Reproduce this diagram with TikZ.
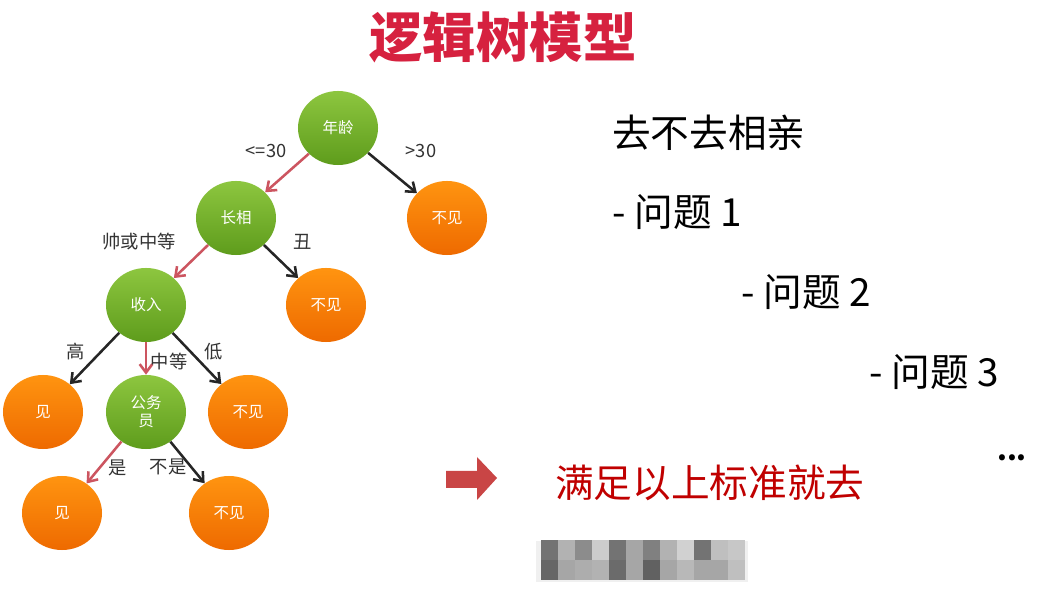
\documentclass[tikz,border=0pt]{standalone}
\usepackage{fontspec}
\setmainfont{Noto Sans CJK SC}
\usetikzlibrary{arrows.meta,shapes.geometric}
\definecolor{titlered}{HTML}{D6213F}
\definecolor{darkred}{HTML}{C00000}
\definecolor{arrred}{HTML}{C94545}
\definecolor{edgered}{HTML}{CC5560}
\definecolor{gtop}{HTML}{8DC63F}
\definecolor{gbot}{HTML}{5E9C1C}
\definecolor{otop}{HTML}{FF9410}
\definecolor{obot}{HTML}{EE6A00}
\begin{document}
\begin{tikzpicture}[x=0.025cm,y=-0.025cm,
  ball/.style={ellipse,minimum width=2cm,minimum height=1.85cm,inner sep=0pt,
    text=white,font=\fontsize{11}{13}\selectfont,align=center},
  gball/.style={ball,top color=gtop,bottom color=gbot},
  oball/.style={ball,top color=otop,bottom color=obot},
  blk/.style={draw=black!85,line width=1.8pt,-{Straight Barb[length=6pt,width=9pt,line width=1.8pt]}},
  red/.style={draw=edgered,line width=1.8pt,-{Straight Barb[length=6pt,width=9pt,line width=1.8pt]}},
  elab/.style={font=\fontsize{13}{15}\selectfont,text=black!80},
  rtext/.style={font=\fontsize{27.5}{32}\selectfont,anchor=west,inner sep=0pt}]
\useasboundingbox (0,0) rectangle (1040,589);
\fill[white] (0,0) rectangle (1040,589);
% title
\node[font=\fontsize{38}{44}\selectfont\bfseries,text=titlered] (title) at (503,37) {逻辑树模型};
% tree nodes
\node[gball] (age) at (338,128) {年龄};
\node[gball] (look) at (236,218) {长相};
\node[oball] (n1) at (447,218) {不见};
\node[gball] (inc) at (146,305) {收入};
\node[oball] (n2) at (326,305) {不见};
\node[oball] (y1) at (43,412) {见};
\node[gball] (civ) at (146,412) {公务\\员};
\node[oball] (n3) at (248,412) {不见};
\node[oball] (y2) at (62,513) {见};
\node[oball] (n4) at (229,513) {不见};
% edges
\draw[red] (age) -- (look);
\draw[blk] (age) -- (n1);
\draw[red] (look) -- (inc);
\draw[blk] (look) -- (n2);
\draw[blk] (inc) -- (y1);
\draw[red] (inc) -- (civ);
\draw[blk] (inc) -- (n3);
\draw[red] (civ) -- (y2);
\draw[blk] (civ) -- (n4);
% edge labels
\node[elab] (l1) at (266,151) {<=30};
\node[elab] (l2) at (421,151) {>30};
\node[elab] (l3) at (139,242) {帅或中等};
\node[elab] (l4) at (303,242) {丑};
\node[elab] (l5) at (76,352) {高};
\node[elab] (l6) at (169,362) {中等};
\node[elab] (l7) at (214,352) {低};
\node[elab] (l8) at (118,468) {是};
\node[elab] (l9) at (168,467) {不是};
% right text
\node[rtext] (q0) at (612,133) {去不去相亲};
\node[rtext] (q1) at (612,212) {- 问题 1};
\node[rtext] (q2) at (741,292) {- 问题 2};
\node[rtext] (q3) at (869,372) {- 问题 3};
\node[font=\fontsize{20}{24}\selectfont\bfseries] (dots) at (1012,458) {...};
% big arrow
\fill[arrred] (446,471) -- (477,471) -- (477,457) -- (497,478) -- (477,500) -- (477,488) -- (446,488) -- cycle;
\node[rtext,text=darkred] (concl) at (555,483) {满足以上标准就去};
% mosaic
\fill[black!6] (536,541) rectangle (748,582);
\foreach \c [count=\i from 0] in {55,30,45,20,55,35,50,30,18,55,25,22}{
  \fill[black!\c] (541+\i*17,540) rectangle (558+\i*17,560);}
\foreach \c [count=\i from 0] in {60,35,32,30,58,35,62,35,28,35,35,25}{
  \fill[black!\c] (541+\i*17,560) rectangle (558+\i*17,580);}
\end{tikzpicture}
\end{document}
